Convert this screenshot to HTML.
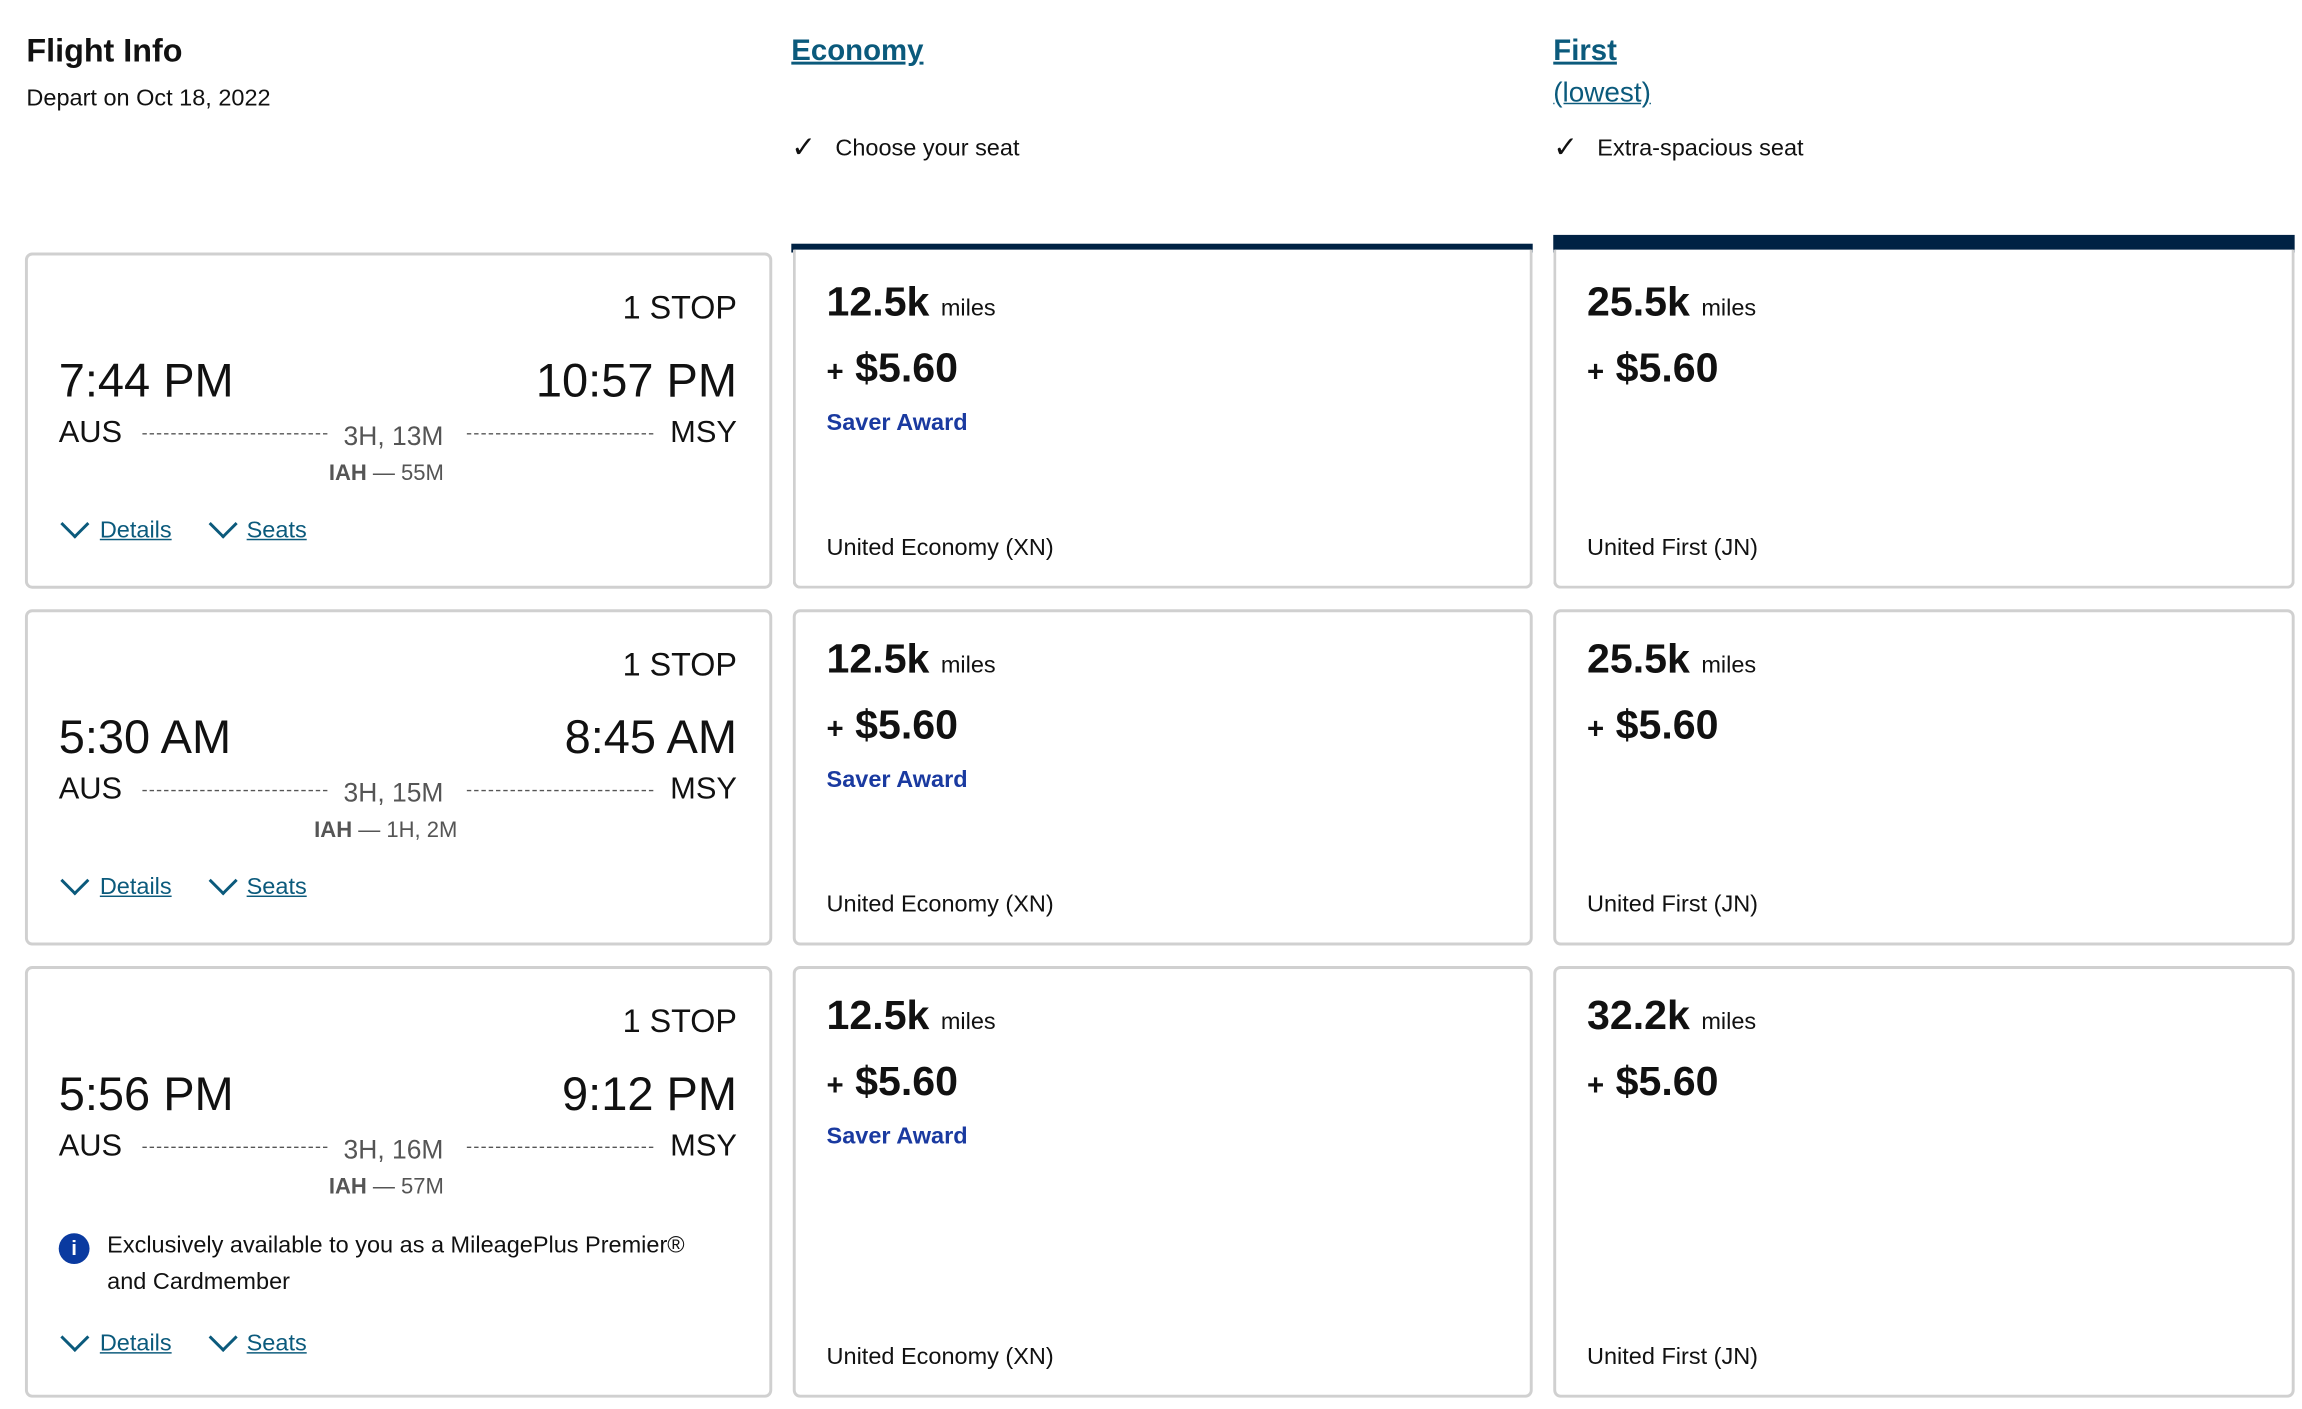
<!DOCTYPE html>
<html><head><meta charset="utf-8">
<style>
html,body{margin:0;padding:0;background:#fff;}
body{width:2302px;height:1408px;overflow:hidden;}
#s{position:absolute;left:0;top:0;width:1568px;height:960px;transform:scale(1.46811);transform-origin:0 0;font-family:"Liberation Sans",sans-serif;color:#111;}
.a{position:absolute;white-space:nowrap;}
.card{position:absolute;border:2px solid #d0d0d0;border-radius:5px;box-sizing:border-box;background:#fff;}
.lnk{color:#0b5a7c;text-decoration:underline;}
.chev{position:absolute;width:12px;height:12px;border-right:2.5px solid #0b5a7c;border-bottom:2.5px solid #0b5a7c;transform:rotate(45deg);}
.dash{position:absolute;height:0;border-top:1.5px dashed #555;}
.bar{position:absolute;background:#002244;}
.t{font-size:32px;line-height:40px;}
</style></head><body><div id="s">

<div class="a" style="left:18px;top:22px;font-size:22px;font-weight:bold;line-height:26px;">Flight Info</div>
<div class="a" style="left:18px;top:58px;font-size:16px;line-height:20px;">Depart on Oct 18, 2022</div>

<div class="a lnk" style="left:539px;top:23px;font-size:20px;font-weight:bold;line-height:24px;">Economy</div>
<div class="a lnk" style="left:1058px;top:23px;font-size:20px;font-weight:bold;line-height:24px;">First</div>
<div class="a lnk" style="left:1058px;top:52px;font-size:19px;line-height:24px;">(lowest)</div>

<div class="a" style="left:539px;top:90px;font-size:20px;line-height:22px;">✓</div>
<div class="a" style="left:569px;top:92px;font-size:16px;line-height:20px;">Choose your seat</div>
<div class="a" style="left:1058px;top:90px;font-size:20px;line-height:22px;">✓</div>
<div class="a" style="left:1088px;top:92px;font-size:16px;line-height:20px;">Extra-spacious seat</div>

<div class="bar" style="left:539px;top:166px;width:505px;height:6px;"></div>
<div class="bar" style="left:1058px;top:160px;width:505px;height:12px;"></div>

<div class="card" style="left:17px;top:172px;width:509px;height:229px;"></div>
<div class="card" style="left:540px;top:170px;width:504px;height:231px;border-top:none;border-radius:0 0 5px 5px;"></div>
<div class="card" style="left:1058px;top:170px;width:505px;height:231px;border-top:none;border-radius:0 0 5px 5px;"></div>

<div class="card" style="left:17px;top:415px;width:509px;height:229px;"></div>
<div class="card" style="left:540px;top:415px;width:504px;height:229px;"></div>
<div class="card" style="left:1058px;top:415px;width:505px;height:229px;"></div>

<div class="card" style="left:17px;top:658px;width:509px;height:294px;"></div>
<div class="card" style="left:540px;top:658px;width:504px;height:294px;"></div>
<div class="card" style="left:1058px;top:658px;width:505px;height:294px;"></div>

<div style="position:absolute;left:0;top:0;">
<div class="a" style="right:-502px;top:197px;font-size:22px;line-height:26px;">1 STOP</div>
<div class="a t" style="left:40px;top:239px;">7:44 PM</div>
<div class="a t" style="right:-502px;top:239px;">10:57 PM</div>
<div class="a" style="left:40px;top:283px;font-size:21px;line-height:24px;">AUS</div>
<div class="a" style="right:-502px;top:283px;font-size:21px;line-height:24px;">MSY</div>
<div class="dash" style="left:97px;top:295px;width:126px;"></div>
<div class="dash" style="left:318px;top:295px;width:127px;"></div>
<div class="a" style="left:234px;top:286px;font-size:18px;line-height:22px;color:#555;">3H, 13M</div>
<div class="a" style="left:224px;top:314px;font-size:15px;line-height:18px;color:#555;"><b>IAH</b> — 55M</div>
<div class="chev" style="left:44px;top:350px;"></div>
<div class="a lnk" style="left:68px;top:352px;font-size:16px;line-height:20px;">Details</div>
<div class="chev" style="left:145px;top:350px;"></div>
<div class="a lnk" style="left:168px;top:352px;font-size:16px;line-height:20px;">Seats</div>
</div>

<div style="position:absolute;left:0;top:243px;">
<div class="a" style="right:-502px;top:197px;font-size:22px;line-height:26px;">1 STOP</div>
<div class="a t" style="left:40px;top:239px;">5:30 AM</div>
<div class="a t" style="right:-502px;top:239px;">8:45 AM</div>
<div class="a" style="left:40px;top:283px;font-size:21px;line-height:24px;">AUS</div>
<div class="a" style="right:-502px;top:283px;font-size:21px;line-height:24px;">MSY</div>
<div class="dash" style="left:97px;top:295px;width:126px;"></div>
<div class="dash" style="left:318px;top:295px;width:127px;"></div>
<div class="a" style="left:234px;top:286px;font-size:18px;line-height:22px;color:#555;">3H, 15M</div>
<div class="a" style="left:214px;top:314px;font-size:15px;line-height:18px;color:#555;"><b>IAH</b> — 1H, 2M</div>
<div class="chev" style="left:44px;top:350px;"></div>
<div class="a lnk" style="left:68px;top:352px;font-size:16px;line-height:20px;">Details</div>
<div class="chev" style="left:145px;top:350px;"></div>
<div class="a lnk" style="left:168px;top:352px;font-size:16px;line-height:20px;">Seats</div>
</div>

<div style="position:absolute;left:0;top:486px;">
<div class="a" style="right:-502px;top:197px;font-size:22px;line-height:26px;">1 STOP</div>
<div class="a t" style="left:40px;top:239px;">5:56 PM</div>
<div class="a t" style="right:-502px;top:239px;">9:12 PM</div>
<div class="a" style="left:40px;top:283px;font-size:21px;line-height:24px;">AUS</div>
<div class="a" style="right:-502px;top:283px;font-size:21px;line-height:24px;">MSY</div>
<div class="dash" style="left:97px;top:295px;width:126px;"></div>
<div class="dash" style="left:318px;top:295px;width:127px;"></div>
<div class="a" style="left:234px;top:286px;font-size:18px;line-height:22px;color:#555;">3H, 16M</div>
<div class="a" style="left:224px;top:314px;font-size:15px;line-height:18px;color:#555;"><b>IAH</b> — 57M</div>
<div class="a" style="left:40px;top:354px;width:21px;height:21px;border-radius:50%;background:#0a3aa0;color:#fff;font-size:14px;font-weight:bold;line-height:21px;text-align:center;">i</div>
<div class="a" style="left:73px;top:350px;font-size:16px;line-height:25px;white-space:normal;width:415px;">Exclusively available to you as a MileagePlus Premier® and Cardmember</div>
<div class="chev" style="left:44px;top:418px;"></div>
<div class="a lnk" style="left:68px;top:420px;font-size:16px;line-height:20px;">Details</div>
<div class="chev" style="left:145px;top:418px;"></div>
<div class="a lnk" style="left:168px;top:420px;font-size:16px;line-height:20px;">Seats</div>
</div>

<div class="a" style="left:563px;top:190px;font-size:28px;font-weight:bold;line-height:32px;">12.5k <span style="font-size:16px;font-weight:normal;">miles</span></div>
<div class="a" style="left:563px;top:235px;font-size:28px;font-weight:bold;line-height:32px;"><span style="font-size:20px;">+</span> $5.60</div>
<div class="a" style="left:563px;top:279px;font-size:16px;font-weight:bold;line-height:20px;color:#1a3aa0;">Saver Award</div>
<div class="a" style="left:563px;top:364px;font-size:16px;line-height:20px;">United Economy (XN)</div>

<div class="a" style="left:1081px;top:190px;font-size:28px;font-weight:bold;line-height:32px;">25.5k <span style="font-size:16px;font-weight:normal;">miles</span></div>
<div class="a" style="left:1081px;top:235px;font-size:28px;font-weight:bold;line-height:32px;"><span style="font-size:20px;">+</span> $5.60</div>
<div class="a" style="left:1081px;top:364px;font-size:16px;line-height:20px;">United First (JN)</div>

<div class="a" style="left:563px;top:433px;font-size:28px;font-weight:bold;line-height:32px;">12.5k <span style="font-size:16px;font-weight:normal;">miles</span></div>
<div class="a" style="left:563px;top:478px;font-size:28px;font-weight:bold;line-height:32px;"><span style="font-size:20px;">+</span> $5.60</div>
<div class="a" style="left:563px;top:522px;font-size:16px;font-weight:bold;line-height:20px;color:#1a3aa0;">Saver Award</div>
<div class="a" style="left:563px;top:607px;font-size:16px;line-height:20px;">United Economy (XN)</div>

<div class="a" style="left:1081px;top:433px;font-size:28px;font-weight:bold;line-height:32px;">25.5k <span style="font-size:16px;font-weight:normal;">miles</span></div>
<div class="a" style="left:1081px;top:478px;font-size:28px;font-weight:bold;line-height:32px;"><span style="font-size:20px;">+</span> $5.60</div>
<div class="a" style="left:1081px;top:607px;font-size:16px;line-height:20px;">United First (JN)</div>

<div class="a" style="left:563px;top:676px;font-size:28px;font-weight:bold;line-height:32px;">12.5k <span style="font-size:16px;font-weight:normal;">miles</span></div>
<div class="a" style="left:563px;top:721px;font-size:28px;font-weight:bold;line-height:32px;"><span style="font-size:20px;">+</span> $5.60</div>
<div class="a" style="left:563px;top:765px;font-size:16px;font-weight:bold;line-height:20px;color:#1a3aa0;">Saver Award</div>
<div class="a" style="left:563px;top:915px;font-size:16px;line-height:20px;">United Economy (XN)</div>

<div class="a" style="left:1081px;top:676px;font-size:28px;font-weight:bold;line-height:32px;">32.2k <span style="font-size:16px;font-weight:normal;">miles</span></div>
<div class="a" style="left:1081px;top:721px;font-size:28px;font-weight:bold;line-height:32px;"><span style="font-size:20px;">+</span> $5.60</div>
<div class="a" style="left:1081px;top:915px;font-size:16px;line-height:20px;">United First (JN)</div>

</div></body></html>
